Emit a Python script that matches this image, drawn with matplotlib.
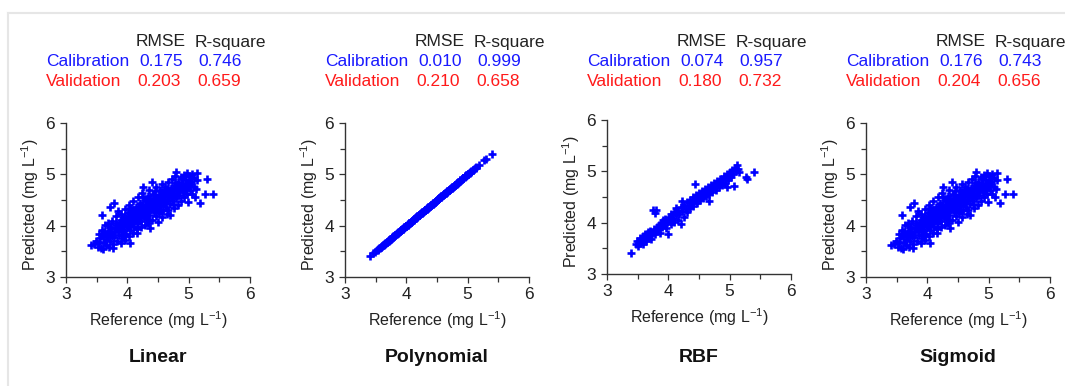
import matplotlib
matplotlib.use("Agg")
from matplotlib import pyplot as plt
from matplotlib.lines import Line2D
from matplotlib.ticker import MultipleLocator

plt.rcParams['font.family'] = ['Liberation Sans', 'DejaVu Sans']
plt.rcParams['mathtext.default'] = 'regular'

# reference values and predictions read from the Linear / Sigmoid clouds
ref = [3.41, 3.46, 3.49, 3.52, 3.53, 3.54, 3.56, 3.57, 3.58, 3.59,
       3.61, 3.62, 3.63, 3.64, 3.66, 3.67, 3.68, 3.69,
       3.70, 3.71, 3.72, 3.73, 3.74, 3.75, 3.76, 3.77, 3.78, 3.79,
       3.80, 3.81, 3.82, 3.83, 3.84, 3.86, 3.87, 3.88, 3.89, 3.90,
       3.91, 3.92, 3.93, 3.94, 3.96, 3.97, 3.98, 3.99,
       4.00, 4.01, 4.02, 4.03, 4.04, 4.05, 4.06, 4.07, 4.08, 4.09,
       4.10, 4.11, 4.12, 4.13, 4.14, 4.15, 4.16, 4.17, 4.18, 4.19,
       4.20, 4.21, 4.22, 4.23, 4.24, 4.25, 4.26, 4.27, 4.28, 4.29,
       4.30, 4.31, 4.32, 4.33, 4.34, 4.35, 4.36, 4.37, 4.38, 4.39,
       4.40, 4.41, 4.42, 4.43, 4.44, 4.45, 4.46, 4.47, 4.48, 4.49,
       4.50, 4.51, 4.52, 4.53, 4.54, 4.55, 4.56,
       4.57, 4.58, 4.59, 4.60, 4.61, 4.62, 4.63, 4.64, 4.65, 4.66,
       4.67, 4.68, 4.69, 4.70, 4.71, 4.72, 4.73, 4.74, 4.75, 4.76,
       4.77, 4.78, 4.79, 4.80, 4.81, 4.82, 4.83,
       4.85, 4.86, 4.87, 4.88, 4.90, 4.91, 4.92, 4.93, 4.95, 4.96,
       4.97, 4.98, 4.99, 5.00, 5.01, 5.02, 5.04, 5.05, 5.06, 5.08,
       5.09, 5.10, 5.12, 5.13, 5.14, 5.19, 5.27, 5.30, 5.40,
       3.60, 3.65, 3.70, 3.75, 3.80, 3.85, 3.88, 3.92, 3.95, 4.00,
       4.03, 4.06, 4.10, 4.13, 4.16, 4.20, 4.23, 4.26, 4.30, 4.33,
       4.36, 4.40, 4.43, 4.46, 4.50, 4.53, 4.56, 4.60, 4.63, 4.66,
       4.70, 4.73, 4.76, 4.80, 4.84, 4.88, 4.92, 4.96, 5.00,
       3.62, 3.68, 3.72, 3.78, 3.82, 3.86, 3.90, 3.94, 3.97, 4.02,
       4.05, 4.08, 4.11, 4.14, 4.18, 4.21, 4.24, 4.27, 4.31, 4.34,
       4.37, 4.41, 4.44, 4.47, 4.51, 4.54, 4.57, 4.61, 4.64, 4.67,
       4.71, 4.74, 4.78, 4.81, 4.85, 4.89, 4.93, 4.98, 5.03, 4.45,
       4.25, 4.05, 3.93, 4.15, 4.35, 4.55, 4.75]

pred_linear = [3.62, 3.64, 3.71, 3.59, 3.83, 3.66, 3.76, 3.57, 4.21, 3.92,
               3.55, 3.69, 3.84, 4.01, 3.62, 3.77, 3.90, 4.06,
               3.58, 3.71, 4.37, 3.83, 3.96, 4.10, 3.64, 3.56, 4.44, 3.78,
               3.89, 4.02, 4.18, 3.70, 4.29, 3.82, 3.95, 4.08, 3.66, 4.22,
               3.76, 3.88, 4.00, 4.14, 4.33, 3.72, 3.84, 3.97,
               4.10, 4.24, 4.40, 3.80, 3.66, 3.92, 4.04, 4.17, 4.30, 3.86,
               4.49, 3.98, 4.12, 4.24, 4.37, 3.86, 3.93, 4.06, 4.55, 4.18,
               4.30, 4.44, 3.97, 4.10, 4.63, 4.22, 4.76, 4.36, 4.02, 4.50,
               4.15, 4.28, 4.41, 4.58, 4.06, 4.70, 4.20, 3.95, 4.33, 4.47,
               4.86, 4.12, 4.62, 4.26, 4.40, 4.54, 4.75, 4.18, 4.32, 4.46,
               4.08, 4.60, 4.24, 4.38, 4.70, 4.52, 4.82,
               4.16, 4.30, 4.44, 4.64, 4.57, 4.76, 4.36, 4.22, 4.50, 4.86,
               4.31, 4.64, 4.42, 4.21, 4.56, 4.74, 4.90, 4.48, 4.62, 4.34,
               4.80, 4.96, 5.05, 4.54, 4.68, 4.40, 4.86,
               4.60, 4.74, 4.94, 4.48, 4.66, 4.82, 4.56, 4.98, 4.72, 4.88,
               5.02, 4.62, 4.47, 4.80, 4.96, 4.70, 4.86, 5.00, 4.62, 4.76,
               4.92, 4.56, 4.72, 5.02, 4.88, 4.45, 4.61, 4.91, 4.62,
               3.80, 3.72, 3.86, 3.80, 3.96, 3.90, 4.02, 4.06, 3.92, 4.02,
               4.14, 4.20, 4.08, 4.18, 4.26, 4.14, 4.30, 4.24, 4.36, 4.30,
               4.44, 4.36, 4.50, 4.42, 4.56, 4.48, 4.60, 4.52, 4.66, 4.58,
               4.70, 4.62, 4.72, 4.78, 4.70, 4.80, 4.76, 4.84, 4.88,
               3.88, 3.80, 3.98, 3.88, 4.06, 3.98, 4.12, 4.04, 4.18, 4.00,
               4.26, 4.10, 4.30, 4.12, 4.36, 4.20, 4.40, 4.16, 4.48, 4.26,
               4.52, 4.40, 4.60, 4.34, 4.48, 4.40, 4.66, 4.44, 4.72, 4.50,
               4.64, 4.56, 4.84, 4.60, 4.66, 4.90, 4.70, 4.78, 4.82, 4.68,
               4.56, 4.34, 3.82, 3.98, 4.12, 4.28, 4.42]

# sigmoid cloud looks the same as the linear one
pred_sigmoid = list(pred_linear)
# polynomial points sit on the 1:1 line
pred_poly = list(ref)

rbf_ref = [3.39, 3.47, 3.49, 3.51, 3.53, 3.54, 3.56, 3.58, 3.59, 3.61,
           3.62, 3.64, 3.65, 3.67, 3.68, 3.70, 3.71, 3.72, 3.74, 3.75,
           3.76, 3.78, 3.79, 3.80, 3.81, 3.82, 3.84, 3.85, 3.87, 3.88,
           3.90, 3.91, 3.93, 3.95, 3.96, 3.98, 4.00, 4.01, 4.02, 4.04,
           4.05, 4.07, 4.09, 4.10, 4.12, 4.13, 4.15, 4.16, 4.18, 4.20,
           4.21, 4.22, 4.23, 4.25, 4.26, 4.28, 4.30, 4.31, 4.33, 4.35,
           4.36, 4.38, 4.40, 4.41, 4.43, 4.44, 4.45, 4.47, 4.48, 4.50,
           4.52, 4.53, 4.55, 4.57, 4.58, 4.60, 4.61, 4.63, 4.65, 4.66,
           4.67, 4.69, 4.70, 4.72, 4.73, 4.75, 4.77, 4.78, 4.80, 4.82,
           4.83, 4.85, 4.87, 4.88, 4.90, 4.92, 4.93, 4.95, 4.96, 4.97,
           4.99, 5.00, 5.02, 5.04, 5.05, 5.07, 5.08, 5.10, 5.12, 5.14,
           5.16, 5.26, 5.28, 5.40]
rbf_pred = [3.40, 3.58, 3.64, 3.55, 3.70, 3.61, 3.66, 3.74, 3.58, 3.69,
            3.78, 3.64, 3.73, 3.82, 3.70, 3.84, 3.76, 3.68, 3.80, 4.25,
            3.88, 4.18, 3.78, 4.25, 3.92, 3.84, 3.96, 3.88, 3.80, 4.00,
            3.92, 4.05, 3.96, 4.08, 3.90, 4.02, 3.78, 4.12, 4.06, 3.98,
            4.16, 4.10, 4.02, 4.20, 4.14, 4.28, 4.06, 4.22, 4.16, 3.97,
            4.30, 4.43, 4.22, 4.12, 4.34, 4.26, 4.40, 4.20, 4.32, 4.44,
            4.28, 4.38, 4.50, 4.32, 4.44, 4.75, 4.54, 4.38, 4.48, 4.58,
            4.44, 4.54, 4.62, 4.48, 4.58, 4.66, 4.52, 4.62, 4.70, 4.43,
            4.56, 4.66, 4.74, 4.60, 4.70, 4.78, 4.64, 4.74, 4.82, 4.70,
            4.78, 4.86, 4.74, 4.84, 4.90, 4.78, 4.88, 4.94, 4.69, 4.84,
            4.92, 4.98, 4.88, 5.02, 4.94, 4.71, 5.06, 5.00, 5.12, 5.04,
            4.98, 4.89, 4.86, 4.98]

titles = ['Linear', 'Polynomial', 'RBF', 'Sigmoid']
rmse_cal = ['0.175', '0.010', '0.074', '0.176']
r2_cal = ['0.746', '0.999', '0.957', '0.743']
rmse_val = ['0.203', '0.210', '0.180', '0.204']
r2_val = ['0.659', '0.658', '0.732', '0.656']

xs = [ref, ref, rbf_ref, ref]
ys = [pred_linear, pred_poly, rbf_pred, pred_sigmoid]

W, H = 1065, 386
fig = plt.figure(figsize=(W / 100, H / 100), dpi=100)

# light frame round the figure
fig.add_artist(Line2D([8 / W, 1], [1 - 13 / H, 1 - 13 / H], color='#e6e6e6', lw=1.5))
fig.add_artist(Line2D([8 / W, 8 / W], [0, 1 - 13 / H], color='#e6e6e6', lw=1.5))

lefts = [66, 345, 607, 866]
tops = [123, 123, 120, 123]
aw, ah = 184, 154

for i in range(4):
    L, T = lefts[i], tops[i]
    ax = fig.add_axes([L / W, 1 - (T + ah) / H, aw / W, ah / H])
    ax.plot(xs[i], ys[i], linestyle='none', marker='+', color='#0000ff',
            ms=6, mew=1.9)
    ax.set_xlim(3, 6)
    ax.set_ylim(3, 6)
    ax.xaxis.set_major_locator(MultipleLocator(1))
    ax.yaxis.set_major_locator(MultipleLocator(1))
    ax.xaxis.set_minor_locator(MultipleLocator(0.5))
    ax.yaxis.set_minor_locator(MultipleLocator(0.5))
    for s in ['top', 'right']:
        ax.spines[s].set_visible(False)
    for s in ['left', 'bottom']:
        ax.spines[s].set_color('#333333')
        ax.spines[s].set_linewidth(1.0)
    ax.tick_params(which='major', direction='out', length=4, width=0.9,
                   color='#333333', labelsize=12.5, labelcolor='#222222')
    ax.tick_params(axis='x', which='major', pad=3)
    ax.tick_params(axis='y', which='major', pad=4)
    ax.tick_params(which='minor', direction='out', length=3.5, width=0.9,
                   color='#333333')
    ax.set_xlabel('Reference (mg L$^{-1}$)', fontsize=11.5, color='#222222')
    ax.set_ylabel('Predicted (mg L$^{-1}$)', fontsize=11.5, color='#222222')
    ax.xaxis.set_label_coords(0.5, -0.21)
    ax.yaxis.set_label_coords(-0.135, 0.47)

    # stats table above the axes
    fs = 12.5
    fig.text((L + 70) / W, 1 - 42 / H, 'RMSE', fontsize=fs, color='#222222', va='center')
    fig.text((L + 129) / W, 1 - 42 / H, 'R-square', fontsize=fs, color='#222222', va='center')
    fig.text((L - 20) / W, 1 - 62 / H, 'Calibration', fontsize=fs, color='#1a1aff', va='center')
    fig.text((L + 73) / W, 1 - 62 / H, rmse_cal[i], fontsize=fs, color='#1a1aff', va='center')
    fig.text((L + 132) / W, 1 - 62 / H, r2_cal[i], fontsize=fs, color='#1a1aff', va='center')
    fig.text((L - 20) / W, 1 - 82 / H, 'Validation', fontsize=fs, color='#ff1a1a', va='center')
    fig.text((L + 71) / W, 1 - 82 / H, rmse_val[i], fontsize=fs, color='#ff1a1a', va='center')
    fig.text((L + 131) / W, 1 - 82 / H, r2_val[i], fontsize=fs, color='#ff1a1a', va='center')

    fig.text((L + aw / 2) / W, 1 - 357 / H, titles[i], fontsize=14,
             fontweight='bold', ha='center', va='center', color='#111111')

fig.savefig('out.png', dpi=100)
